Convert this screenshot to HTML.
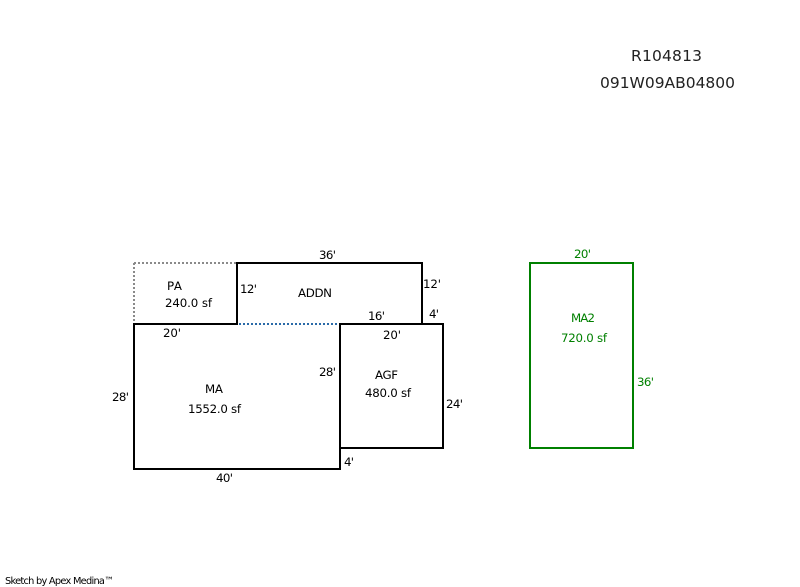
<!DOCTYPE html>
<html>
<head>
<meta charset="utf-8">
<style>
html,body{margin:0;padding:0;background:#fff;width:800px;height:587px;overflow:hidden}
svg{display:block}
text{font-family:"DejaVu Sans","Liberation Sans",sans-serif;font-size:11.8px;fill:#000}
.big{font-size:15.5px;fill:#222}
.g{fill:#008000}
.foot{font-size:9.8px}
line,rect{shape-rendering:crispEdges}
</style>
</head>
<body>
<svg width="800" height="587" viewBox="0 0 800 587" xmlns="http://www.w3.org/2000/svg">
<g stroke="#8a8a8a" stroke-width="2" stroke-dasharray="2 2" fill="none">
<line x1="134" y1="263" x2="237" y2="263"/>
<line x1="134" y1="263" x2="134" y2="324"/>
</g>
<line x1="239" y1="324" x2="340" y2="324" stroke="#2a6aa8" stroke-width="2" stroke-dasharray="2 2"/>
<g stroke="#000" stroke-width="2" fill="none" stroke-linecap="square">
<line x1="134" y1="324" x2="237" y2="324"/>
<line x1="237" y1="263" x2="237" y2="324"/>
<line x1="237" y1="263" x2="422" y2="263"/>
<line x1="422" y1="263" x2="422" y2="324"/>
<line x1="340" y1="324" x2="443" y2="324"/>
<line x1="443" y1="324" x2="443" y2="448"/>
<line x1="340" y1="448" x2="443" y2="448"/>
<line x1="340" y1="324" x2="340" y2="469"/>
<line x1="134" y1="469" x2="340" y2="469"/>
<line x1="134" y1="324" x2="134" y2="469"/>
</g>
<rect x="530" y="263" width="103" height="185" fill="none" stroke="#008000" stroke-width="2"/>

<text class="big" x="631" y="61" textLength="71">R104813</text>
<text class="big" x="600" y="88" textLength="135">091W09AB04800</text>

<text x="319" y="259" textLength="17">36'</text>
<text x="167" y="290" textLength="15">PA</text>
<text x="165" y="307" textLength="47">240.0 sf</text>
<text x="240" y="293" textLength="17">12'</text>
<text x="298" y="297" textLength="34">ADDN</text>
<text x="163" y="337" textLength="18">20'</text>
<text x="368" y="320" textLength="17">16'</text>
<text x="423" y="288" textLength="18">12'</text>
<text x="429" y="318" textLength="10">4'</text>
<text x="383" y="339" textLength="18">20'</text>
<text x="205" y="393" textLength="18">MA</text>
<text x="188" y="413" textLength="53">1552.0 sf</text>
<text x="112" y="401" textLength="17">28'</text>
<text x="319" y="376" textLength="17">28'</text>
<text x="375" y="379" textLength="23">AGF</text>
<text x="365" y="397" textLength="46">480.0 sf</text>
<text x="446" y="408" textLength="17">24'</text>
<text x="216" y="482" textLength="17">40'</text>
<text x="344" y="466" textLength="10">4'</text>

<text class="g" x="574" y="258" textLength="17">20'</text>
<text class="g" x="571" y="322" textLength="24">MA2</text>
<text class="g" x="561" y="342" textLength="46">720.0 sf</text>
<text class="g" x="637" y="386" textLength="17">36'</text>

<text class="foot" x="5" y="584" textLength="109">Sketch by Apex Medina™</text>
</svg>
</body>
</html>
